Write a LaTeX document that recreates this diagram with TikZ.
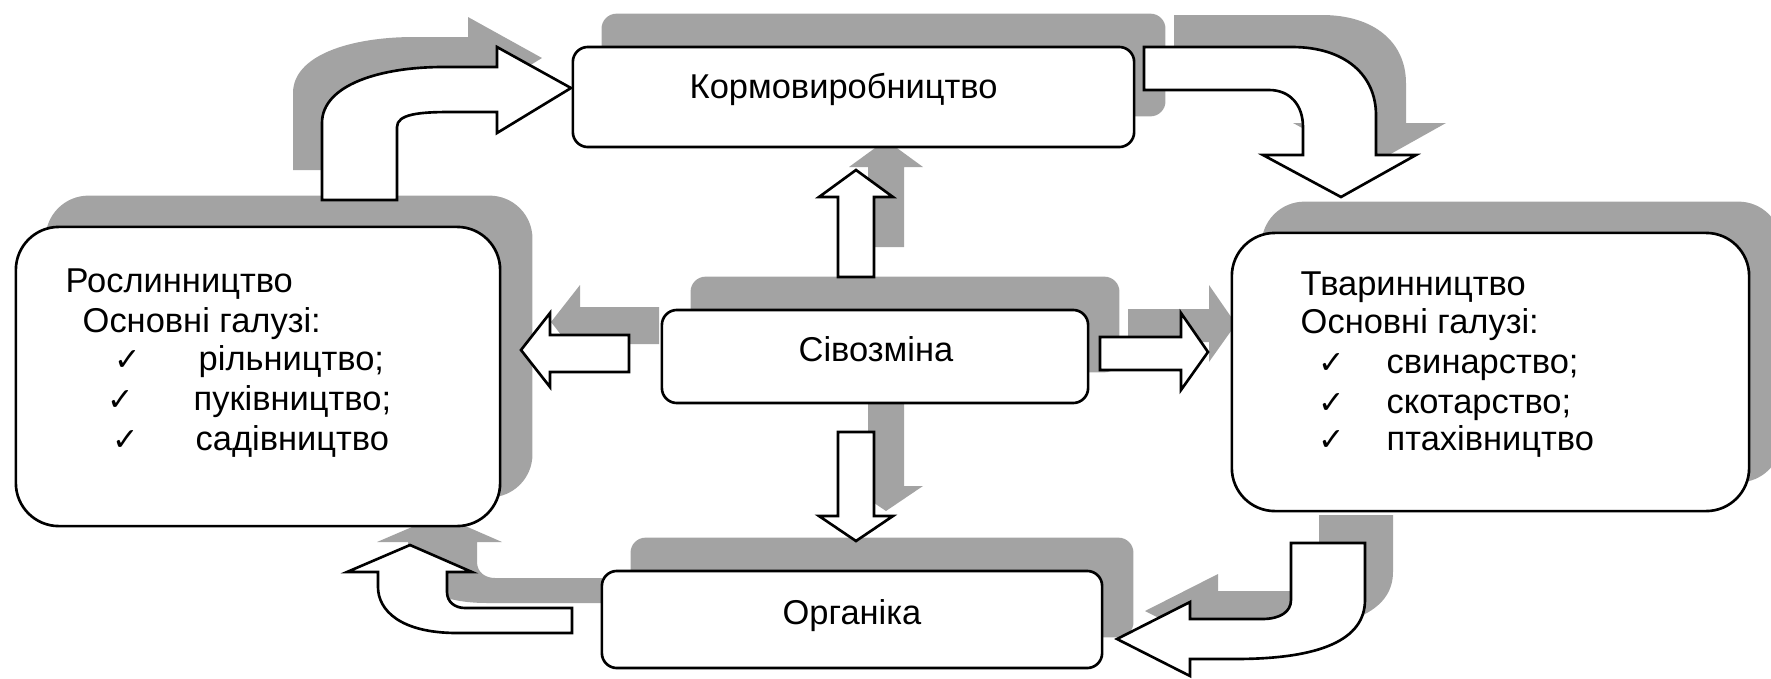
\documentclass[tikz,border=0pt]{standalone}
\usepackage{fontspec}
\setmainfont{Liberation Sans}
\newfontfamily\tickfont{DejaVu Sans}
\usepackage{tikz}
\usetikzlibrary{backgrounds}

\tikzset{
  box/.style={draw, fill=white, line width=0.75pt, rounded corners=0.15cm, inner sep=0pt},
  bigbox/.style={box, rounded corners=0.43cm},
  blk/.style={draw, fill=white, line width=0.75pt, line join=miter},
  shd/.style={fill=black!36, draw=none},
  txt/.style={anchor=base west, inner sep=0pt, font=\fontsize{9.8}{12}\selectfont},
  tick/.style={anchor=base west, inner sep=0pt, font=\tickfont\fontsize{9}{10}\selectfont},
}

% block arrows, in pixels of the page
\def\ArrRK{(322,200) -- (322,123) .. controls (322,85) and (380,67) .. (443,67) -- (497,67) -- (497,47) -- (571,88) -- (497,133) -- (497,112) -- (450,112) .. controls (420,112) and (397,114) .. (397,127) -- (397,200) -- cycle}
\def\ArrKT{(1144,47) -- (1292,47) .. controls (1345,47) and (1376,75) .. (1376,115) -- (1376,155) -- (1416,155) -- (1341,197) -- (1263,155) -- (1303,155) -- (1303,127) .. controls (1303,105) and (1290,90) .. (1269,90) -- (1144,90) -- cycle}
\def\ArrUp{(838,277) -- (838,197) -- (819,197) -- (856,170) -- (893,197) -- (874,197) -- (874,277) -- cycle}
\def\ArrLeft{(629,335) -- (550,335) -- (550,313) -- (521,350) -- (550,387) -- (550,372) -- (629,372) -- cycle}
\def\ArrRight{(1100,337) -- (1181,337) -- (1181,313) -- (1208,352) -- (1181,390) -- (1181,370) -- (1100,370) -- cycle}
\def\ArrDown{(838,432) -- (874,432) -- (874,516) -- (893,516) -- (856,541) -- (819,516) -- (838,516) -- cycle}
\def\ArrTO{(1291,543) -- (1365,543) -- (1365,600) .. controls (1365,640) and (1320,659) .. (1235,659) -- (1190,659) -- (1190,676) -- (1117,639) -- (1190,602) -- (1190,619) -- (1262,619) .. controls (1280,619) and (1291,612) .. (1291,600) -- cycle}
\def\ArrOR{(572,608) -- (572,633) -- (457,633) .. controls (400,633) and (378,610) .. (378,587) -- (378,572) -- (347,572) -- (410,545) -- (472,572) -- (447,572) -- (447,592) .. controls (447,602) and (455,608) .. (465,608) -- cycle}

\begin{document}
\begin{tikzpicture}[x=0.01cm, y=-0.01cm]
\useasboundingbox (0,0) rectangle (1771,678);

% boxes
\node[box, minimum width=5.61cm, minimum height=1.00cm] (korm) at (853.5,97) {};
\node[bigbox, minimum width=4.84cm, minimum height=2.99cm] (rosl) at (258,376.5) {};
\node[bigbox, minimum width=5.17cm, minimum height=2.78cm] (tvar) at (1490.5,372) {};
\node[box, minimum width=4.26cm, minimum height=0.93cm] (sivo) at (875,356.5) {};
\node[box, minimum width=5.00cm, minimum height=0.97cm] (orga) at (852,619.5) {};

% texts
\node[txt] (korm-t) at (689,98) {Кормовиробництво};
\node[txt, anchor=base] (sivo-t) at (876,361) {Сівозміна};
\node[txt, anchor=base] (orga-t) at (852,624) {Органіка};

\node[txt] (rosl-1) at (65,292) {Рослинництво};
\node[txt] (rosl-2) at (82,332) {Основні галузі:};
\node[tick] (rosl-c1) at (114,370) {✓};
\node[tick] (rosl-c2) at (107,410) {✓};
\node[tick] (rosl-c3) at (112,450) {✓};
\node[txt] (rosl-3) at (198,370) {рільництво;};
\node[txt] (rosl-4) at (193,410) {пуківництво;};
\node[txt] (rosl-5) at (195,450) {садівництво};

\node[txt] (tvar-1) at (1300,295) {Тваринництво};
\node[txt] (tvar-2) at (1300,333) {Основні галузі:};
\node[tick] (tvar-c1) at (1318,373) {✓};
\node[tick] (tvar-c2) at (1318,413) {✓};
\node[tick] (tvar-c3) at (1318,450) {✓};
\node[txt] (tvar-3) at (1386,373) {свинарство;};
\node[txt] (tvar-4) at (1386,413) {скотарство;};
\node[txt] (tvar-5) at (1386,450) {птахівництво};

% block arrows
\path[blk] \ArrRK;
\path[blk] \ArrKT;
\path[blk] \ArrUp;
\path[blk] \ArrLeft;
\path[blk] \ArrRight;
\path[blk] \ArrDown;
\path[blk] \ArrTO;
\path[blk] \ArrOR;

% shadows
\begin{scope}[on background layer]
  \foreach \b in {korm,sivo,orga}
    \fill[shd, rounded corners=0.15cm] ([shift={(30,-32)}]\b.south west) rectangle ([shift={(30,-32)}]\b.north east);
  \foreach \b in {rosl,tvar}
    \fill[shd, rounded corners=0.43cm] ([shift={(31,-30)}]\b.south west) rectangle ([shift={(31,-30)}]\b.north east);
  \fill[shd, shift={(-29,-30)}] \ArrRK;
  \fill[shd, shift={(30,-32)}] \ArrKT;
  \fill[shd, shift={(30,-30)}] \ArrUp;
  \fill[shd, shift={(30,-28)}] \ArrLeft;
  \fill[shd, shift={(28,-28)}] \ArrRight;
  \fill[shd, shift={(30,-30)}] \ArrDown;
  \fill[shd, shift={(28,-28)}] \ArrTO;
  \fill[shd, shift={(30,-30)}] \ArrOR;
\end{scope}
\end{tikzpicture}
\end{document}
